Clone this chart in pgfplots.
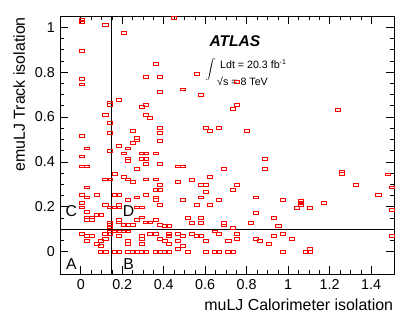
\documentclass[border=0pt]{standalone}
\usepackage{fontspec}
\setmainfont{Liberation Sans}
\usepackage{pgfplots}
\pgfplotsset{compat=1.18}
\begin{document}
\begin{tikzpicture}
\useasboundingbox (0,0) rectangle (415bp,319bp);
\begin{axis}[
  at={(60bp,45bp)}, anchor=south west, scale only axis,
  width=334bp, height=258bp,
  xmin=-0.1, xmax=1.51, ymin=-0.1, ymax=1.05,
  xtick={0,0.2,0.4,0.6,0.8,1,1.2,1.4},
  ytick={0,0.2,0.4,0.6,0.8,1},
  minor tick num=3,
  tick align=inside,
  major tick length=8bp, minor tick length=3.7bp,
  every tick/.style={black, line width=0.6bp},
  axis line style={line width=0.8bp},
  /pgf/number format/assume math mode=true,
  tick label style={font=\fontsize{14.4}{14.4}\selectfont, inner sep=0pt},
  xticklabel shift=5bp, yticklabel shift=5bp,
  xlabel={muLJ Calorimeter isolation},
  ylabel={emuLJ Track isolation},
  label style={font=\fontsize{16}{16}\selectfont, inner sep=0pt},
  xlabel style={at={(axis description cs:0.998,-0.1434)}, anchor=base east},
  ylabel style={at={(axis description cs:-0.1048,0.9961)}, anchor=base east},
]
\addplot[only marks, mark=square, mark size=1.4bp,
  mark options={xscale=1.8, draw=red, line width=0.9bp}] table {
x y
0.008 1.033
0.008 1.022
0.119 1.009
0.206 0.975
0.448 1.043
0.008 0.895
0.361 0.837
0.315 0.779
0.382 0.779
0.008 0.769
0.008 0.745
0.382 0.711
0.140 0.665
0.140 0.653
0.185 0.677
0.295 0.643
0.315 0.653
0.559 0.791
0.491 0.723
0.580 0.699
0.755 0.757
0.755 0.653
0.733 0.637
1.238 0.631
0.119 0.609
0.315 0.609
0.335 0.597
0.140 0.575
0.008 0.517
0.140 0.528
0.250 0.538
0.382 0.551
0.382 0.528
0.272 0.505
0.272 0.495
0.250 0.483
0.382 0.493
0.185 0.471
0.030 0.460
0.229 0.460
0.140 0.448
0.206 0.437
0.295 0.437
0.315 0.437
0.361 0.437
0.008 0.424
0.229 0.415
0.229 0.403
0.295 0.413
0.315 0.413
0.008 0.379
0.030 0.379
0.315 0.391
0.382 0.391
0.470 0.379
0.491 0.379
0.272 0.368
0.163 0.345
0.119 0.321
0.140 0.321
0.206 0.332
0.229 0.321
0.250 0.311
0.315 0.321
0.361 0.321
0.470 0.311
0.382 0.298
0.030 0.286
0.361 0.276
0.382 0.276
0.602 0.551
0.623 0.538
0.668 0.550
0.799 0.538
0.689 0.368
0.886 0.413
0.886 0.368
0.623 0.332
0.536 0.320
0.580 0.298
0.602 0.298
0.755 0.298
0.734 0.276
0.602 0.265
0.580 0.241
0.844 0.241
0.493 0.230
0.668 0.230
0.974 0.230
0.559 0.206
0.623 0.206
0.382 0.206
1.259 0.357
1.259 0.345
1.480 0.344
1.327 0.298
1.501 0.286
1.435 0.252
1.061 0.227
1.061 0.216
1.061 0.206
1.042 0.196
1.106 0.196
1.171 0.218
1.498 0.184
0.008 0.253
0.163 0.253
0.185 0.253
0.076 0.253
0.030 0.241
0.229 0.230
0.272 0.241
0.315 0.253
0.361 0.241
0.361 0.230
0.008 0.218
0.008 0.197
0.119 0.207
0.140 0.197
0.163 0.197
0.185 0.207
0.185 0.197
0.272 0.197
0.295 0.197
0.844 0.172
0.515 0.150
0.580 0.150
0.931 0.150
0.536 0.126
0.580 0.126
0.689 0.126
0.689 0.116
0.821 0.126
0.953 0.114
0.406 0.114
0.427 0.114
0.734 0.104
0.646 0.090
0.668 0.080
0.755 0.080
0.974 0.080
0.427 0.080
0.427 0.068
0.470 0.080
0.493 0.068
0.536 0.080
0.559 0.068
0.580 0.068
0.755 0.058
0.844 0.058
0.931 0.068
0.406 0.046
0.427 0.034
0.470 0.046
0.604 0.046
0.712 0.046
0.865 0.046
0.908 0.034
0.493 0.024
0.470 0.012
0.406 0.000
0.427 0.000
0.515 0.000
0.602 0.000
0.646 0.000
0.668 0.000
0.712 0.000
0.734 0.000
0.974 0.000
1.018 0.058
1.086 0.000
1.106 0.000
1.106 0.010
1.498 0.068
0.030 0.176
0.076 0.164
0.098 0.164
0.030 0.152
0.053 0.152
0.030 0.142
0.053 0.142
0.140 0.130
0.140 0.120
0.140 0.110
0.185 0.142
0.185 0.130
0.206 0.120
0.229 0.120
0.250 0.120
0.272 0.142
0.295 0.152
0.315 0.130
0.335 0.130
0.361 0.142
0.382 0.120
0.140 0.090
0.163 0.090
0.185 0.090
0.206 0.090
0.229 0.090
0.119 0.080
0.140 0.080
0.008 0.080
0.030 0.068
0.053 0.068
0.030 0.046
0.098 0.046
0.076 0.034
0.098 0.024
0.119 0.058
0.229 0.046
0.229 0.034
0.295 0.068
0.295 0.058
0.295 0.034
0.335 0.080
0.361 0.080
0.382 0.058
0.185 0.068
0.098 0.000
0.119 0.000
0.163 0.000
0.185 0.000
0.229 0.000
0.250 0.000
0.272 0.000
0.295 0.000
0.315 0.000
0.361 0.000
0.382 0.000
};
\addplot[black, line width=1.2bp] coordinates {(0.15,-0.1) (0.15,1.05)};
\addplot[black, line width=1.2bp] coordinates {(-0.1,0.1) (1.51,0.1)};
\node[font=\fontsize{15.8}{15.8}\selectfont, inner sep=0pt] at (axis cs:-0.045,-0.058) {A};
\node[font=\fontsize{15.8}{15.8}\selectfont, inner sep=0pt] at (axis cs:0.231,-0.058) {B};
\node[font=\fontsize{15.8}{15.8}\selectfont, inner sep=0pt] at (axis cs:-0.045,0.182) {C};
\node[font=\fontsize{15.8}{15.8}\selectfont, inner sep=0pt] at (axis cs:0.231,0.182) {D};
\node[font=\fontsize{15.6}{15.6}\selectfont\bfseries\itshape, anchor=base west, inner sep=0pt] at (axis cs:0.620,0.912) {ATLAS};
\node[font=\fontsize{9.5}{9.5}\selectfont, inner sep=0pt] at (axis cs:0.626,0.810) {$\displaystyle\int$};
\node[font=\fontsize{10.7}{10.7}\selectfont, anchor=base west, inner sep=0pt] at (axis cs:0.671,0.816) {Ldt = 20.3 fb\raisebox{4bp}{\fontsize{7}{7}\selectfont -1}};
\node[font=\fontsize{10.7}{10.7}\selectfont, anchor=base west, inner sep=0pt] at (axis cs:0.657,0.738) {√s = 8 TeV};
\end{axis}
\end{tikzpicture}
\end{document}
